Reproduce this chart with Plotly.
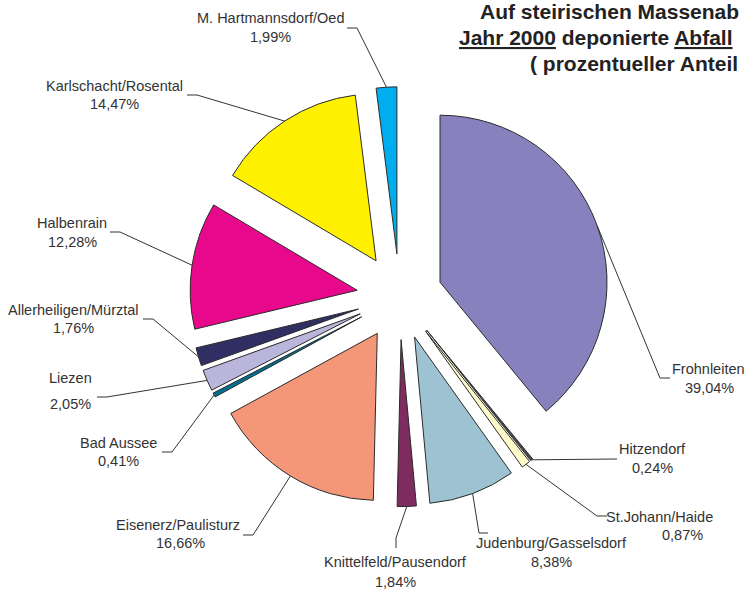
import math
import plotly.graph_objects as go

# Landfill sites (clockwise from 12 o'clock) and their share of deposited waste in %
sites = [
    "Frohnleiten", "Hitzendorf", "St.Johann/Haide", "Judenburg/Gasselsdorf",
    "Knittelfeld/Pausendorf", "Eisenerz/Paulisturz", "Bad Aussee", "Liezen",
    "Allerheiligen/Mürztal", "Halbenrain", "Karlschacht/Rosental", "M. Hartmannsdorf/Oed",
]
shares = [39.04, 0.24, 0.87, 8.38, 1.84, 16.66, 0.41, 2.05, 1.76, 12.28, 14.47, 1.99]
colors = [
    "#8781BD", "#4A4A4A", "#FFFBC8", "#9DC3D3", "#7E2B60", "#F49779",
    "#00708E", "#BAB5DA", "#2F2F63", "#E8088C", "#FFF100", "#00AEEF",
]

title_lines = [
    "Auf steirischen Massenab",
    "<u>Jahr 2000</u> deponierte <u>Abfall</u>",
    "( prozentueller Anteil",
]

W, H = 748, 589
CX, CY = 399.6, 296.7      # pie centre (px, from top-left)
R = 167.0                  # slice radius (px)
PULL = 0.257               # explode distance as fraction of radius

# label placement: first line centre, second line centre, leader elbow points (px)
label_layout = {
    "Frohnleiten":            ((708, 369), (709, 388), [(660, 378), (670, 378)]),
    "Hitzendorf":             ((652, 449), (652, 468), [(617, 459)]),
    "St.Johann/Haide":        ((659, 517), (682, 535), [(597, 516), (607, 516)]),
    "Judenburg/Gasselsdorf":  ((551, 543), (551, 562), [(479, 533), (488, 533)]),
    "Knittelfeld/Pausendorf": ((395, 562), (395, 582), [(396, 538), (396, 548)]),
    "Eisenerz/Paulisturz":    ((178, 525), (180, 543), [(253, 535), (243, 535)]),
    "Bad Aussee":             ((118, 443), (118, 461), [(172, 452), (162, 452)]),
    "Liezen":                 ((70, 378), (70, 404), [(107, 397), (97, 397)]),
    "Allerheiligen/Mürztal":  ((73, 310), (73, 328), [(153, 319), (143, 319)]),
    "Halbenrain":             ((72, 223), (72, 242), [(120, 232), (110, 232)]),
    "Karlschacht/Rosental":   ((114, 86), (114, 104), [(197, 95), (187, 95)]),
    "M. Hartmannsdorf/Oed":   ((270, 18), (270, 37), [(357, 28), (347, 28)]),
}


def px(x, y):
    return x / W, 1 - y / H


half = R * (1 + PULL)
dom_x = [(CX - half) / W, (CX + half) / W]
dom_y = [1 - (CY + half) / H, 1 - (CY - half) / H]

fig = go.Figure(
    go.Pie(
        labels=sites,
        values=shares,
        sort=False,
        direction="clockwise",
        rotation=0,
        pull=[PULL] * len(shares),
        marker=dict(colors=colors, line=dict(color="#2B2B2B", width=1)),
        textinfo="none",
        hoverinfo="label+percent",
        showlegend=False,
        domain=dict(x=dom_x, y=dom_y),
    )
)

label_font = dict(family="Liberation Sans, Arial, sans-serif", size=14.5, color="#333333")
annotations = []
shapes = []
total = sum(shares)
cum = 0.0
for name, v in zip(sites, shares):
    theta = 2 * math.pi * (cum + v / 2) / total
    cum += v
    ox = CX + (1 + PULL) * R * math.sin(theta)
    oy = CY - (1 + PULL) * R * math.cos(theta)
    (l1x, l1y), (l2x, l2y), elbow = label_layout[name]
    pts = [(ox, oy)] + elbow
    path = "M " + " L ".join("{:.5f},{:.5f}".format(*px(x, y)) for x, y in pts)
    shapes.append(dict(type="path", path=path, xref="paper", yref="paper",
                       line=dict(color="#333333", width=1), layer="above"))
    pct = "{:.2f}".format(v).replace(".", ",") + "%"
    for txt, (x, y) in ((name, (l1x, l1y)), (pct, (l2x, l2y))):
        xp, yp = px(x, y)
        annotations.append(dict(text=txt, x=xp, y=yp, xref="paper", yref="paper",
                                xanchor="center", yanchor="middle", showarrow=False,
                                font=label_font))

title_font = dict(family="Liberation Sans, Arial, sans-serif", size=21, color="#222222")
for txt, (x, y) in zip(title_lines, [(478, 12), (457, 37), (528, 63)]):
    xp, yp = px(x, y)
    annotations.append(dict(text="<b>" + txt + "</b>", x=xp, y=yp, xref="paper", yref="paper",
                            xanchor="left", yanchor="middle", showarrow=False,
                            font=title_font))

fig.update_layout(
    width=W, height=H,
    margin=dict(l=0, r=0, t=0, b=0),
    paper_bgcolor="white",
    plot_bgcolor="white",
    annotations=annotations,
    shapes=shapes,
)

fig.write_html("out.html")
